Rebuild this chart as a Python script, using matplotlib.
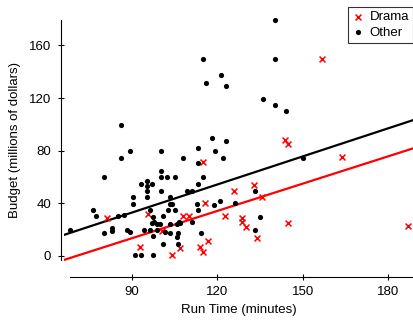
import numpy as np
import matplotlib
matplotlib.use("Agg")
import matplotlib.pyplot as plt

plt.rcParams['font.family'] = ['Liberation Sans', 'DejaVu Sans']

# drama films: run time (minutes), budget (millions of dollars)
drama_time = [81.1, 95.7, 92.8, 104.0, 100.4, 106.9, 108.0, 110.1, 113.9, 114.9,
              114.9, 115.7, 116.9, 122.7, 126.0, 128.8, 128.8, 130.1, 133.0, 134.0,
              135.7, 143.8, 144.7, 144.8, 156.9, 163.9, 186.9]
drama_budget = [28.6, 31.9, 6.8, 1.0, 19.2, 6.1, 30.4, 30.4, 6.8, 2.7,
                71.7, 40.0, 11.6, 30.4, 49.6, 28.5, 25.5, 22.3, 54.0, 13.9,
                44.6, 88.5, 84.9, 24.8, 149.7, 75.0, 22.8]

# all other films
other_time = [140.3, 115.1, 140.3, 121.2, 116.0, 123.0, 136.2, 140.3, 144.0, 86.0,
              118.2, 122.9, 113.2, 89.3, 119.2, 100.1, 86.0, 108.0, 122.1, 150.2,
              113.2, 100.1, 80.3, 100.1, 102.2, 105.1, 115.1, 93.2, 95.2, 95.2,
              97.2, 113.2, 95.2, 100.1, 109.2, 111.1, 133.2, 90.2, 95.2, 103.4,
              120.9, 90.2, 103.2, 104.1, 113.0, 119.0, 126.2, 76.2, 96.3, 102.8,
              105.1, 113.1, 77.2, 85.2, 87.2, 97.3, 101.0, 135.1, 97.7, 98.7,
              96.9, 99.8, 103.4, 105.7, 106.6, 111.1, 68.2, 80.3, 83.1, 83.1,
              88.3, 89.3, 94.2, 96.3, 98.9, 101.6, 103.4, 106.3, 114.1, 133.1,
              97.3, 105.7, 101.0, 106.2, 91.1, 93.1, 97.3, 106.9]
other_budget = [179.3, 149.7, 149.7, 137.5, 131.2, 129.2, 119.3, 114.7, 110.2, 99.5,
                89.3, 87.2, 81.7, 79.8, 79.6, 79.6, 74.7, 74.7, 74.7, 74.7,
                70.3, 64.6, 59.8, 59.8, 59.8, 59.8, 59.8, 54.7, 57.0, 53.2,
                54.7, 54.7, 49.4, 49.4, 49.4, 49.4, 49.4, 44.8, 44.5, 44.6,
                41.4, 39.3, 39.5, 39.5, 39.3, 38.8, 40.0, 35.0, 35.0, 35.0,
                35.0, 35.0, 30.0, 30.0, 31.2, 29.9, 30.0, 29.9, 26.1, 24.3,
                24.8, 24.3, 24.1, 24.1, 26.1, 26.1, 19.8, 17.1, 21.3, 19.0,
                19.8, 18.5, 19.8, 19.8, 19.8, 18.5, 17.2, 17.7, 17.7, 19.8,
                14.8, 14.7, 9.3, 9.1, 0.4, 1.1, 1.1, 24.8]

# fitted lines (intercept, slope)
other_fit = (-31.0, 0.711)
drama_fit = (-48.7, 0.691)

x_ticks = [90, 120, 150, 180]
y_ticks = [0, 40, 80, 120, 160]

fig = plt.figure(figsize=(4.13, 3.23), dpi=100)
ax = fig.add_axes([64/413, 61/323, 349/413, 244/323])

ax.scatter(drama_time, drama_budget, marker='x', s=18, color='#ff0000',
           linewidths=1.1, label='Drama', zorder=3)
ax.scatter(other_time, other_budget, marker='o', s=14, color='black',
           linewidths=0, label='Other', zorder=3)

ax.axline((0, other_fit[0]), slope=other_fit[1], color='black', lw=1.6)
ax.axline((0, drama_fit[0]), slope=drama_fit[1], color='#ff0000', lw=1.6)

ax.set_xlim(66.1, 188.8)
ax.set_ylim(-4.6, 180.9)
ax.set_xticks(x_ticks)
ax.set_yticks(y_ticks)

# detached axes like the original
for side in ['top', 'right']:
    ax.spines[side].set_visible(False)
ax.spines['left'].set_position(('outward', 2))
ax.spines['bottom'].set_position(('outward', 11))
ax.spines['left'].set_bounds(-3, 179.5)
ax.spines['bottom'].set_bounds(68.2, 188.5)
ax.tick_params(direction='inout', length=4.5, width=0.8, labelsize=9.5)
ax.tick_params(axis='x', pad=4)
ax.tick_params(axis='y', pad=5)

ax.set_xlabel('Run Time (minutes)', fontsize=9.5, labelpad=4)
ax.set_ylabel('Budget (millions of dollars)', fontsize=9.5, labelpad=6)

leg = fig.legend(loc='upper right', bbox_to_anchor=(1.0, 0.978), fontsize=9.5,
                 frameon=True, fancybox=False, handlelength=0.8,
                 handletextpad=0.5, borderpad=0.3, labelspacing=0.25,
                 borderaxespad=0)
leg.get_frame().set_edgecolor('black')
leg.get_frame().set_linewidth(0.8)

fig.savefig('out.png', dpi=100)
